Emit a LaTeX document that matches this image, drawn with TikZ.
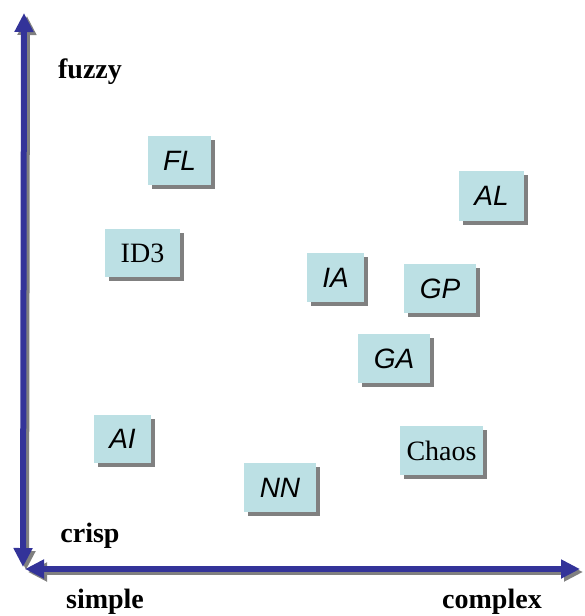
\documentclass[tikz,border=0pt]{standalone}
\usepackage{fontspec}
\setmainfont{Liberation Serif}
\newfontfamily\arialfont{Liberation Sans}
\usetikzlibrary{arrows.meta,shadows}
\definecolor{boxfill}{HTML}{BCE0E4}
\definecolor{axisblue}{HTML}{333399}
\definecolor{shadowgray}{HTML}{808080}
\tikzset{
  tag/.style={fill=boxfill, inner sep=0pt, font=\fontsize{28}{30}\selectfont,
    general shadow={fill=shadowgray, shadow xshift=4pt, shadow yshift=-4pt}},
  axislab/.style={font=\fontsize{28}{30}\selectfont\bfseries, inner sep=0pt},
  axisline/.style={line width=6pt, draw=axisblue,
    {Triangle[width=18pt,length=19pt]}-{Triangle[width=18pt,length=19pt]}},
  axisshadow/.style={line width=6pt, draw=shadowgray,
    {Triangle[width=18pt,length=19pt]}-{Triangle[width=18pt,length=19pt]}}
}
\newcommand{\tagbox}[6]{% name, x1, y1, x2, y2, text
  \node[tag, minimum width={#4-#2}, minimum height={#5-#3}] (#1) at ({(#2+#4)/2},{(#3+#5)/2}) {#6};}
\begin{document}
\begin{tikzpicture}[x=1pt,y=-1pt]
\useasboundingbox (0,0) rectangle (585,616);
% axes
\coordinate (vtop) at (24,13);
\coordinate (vbot) at (23,567);
\coordinate (hleft) at (25,569);
\coordinate (hright) at (580,569);
\draw[axisshadow, transform canvas={xshift=3pt,yshift=-3pt}] (vbot) -- (vtop);
\draw[axisshadow, transform canvas={xshift=3pt,yshift=-3pt}] (hleft) -- (hright);
\draw[axisline] (vbot) -- (vtop);
\draw[axisline] (hleft) -- (hright);
% axis labels
\node[axislab] (fuzzy) at (90,72) {fuzzy};
\node[axislab] (crisp) at (90,536) {crisp};
\node[axislab, anchor=base] (simple) at (105,608) {simple};
\node[axislab, anchor=base] (complex) at (492,608) {complex};
% boxes
\tagbox{FL}{148}{136}{211}{185}{\arialfont\itshape FL}
\tagbox{AL}{459}{171}{524}{221}{\arialfont\itshape AL}
\tagbox{ID3}{105}{229}{180}{277}{ID3}
\tagbox{IA}{307}{253}{364}{302}{\arialfont\itshape IA}
\tagbox{GP}{404}{264}{476}{313}{\arialfont\itshape GP}
\tagbox{GA}{358}{334}{430}{383}{\arialfont\itshape GA}
\tagbox{AI}{94}{415}{151}{463}{\arialfont\itshape AI}
\tagbox{Chaos}{400}{426}{483}{475}{Chaos}
\tagbox{NN}{244}{463}{316}{512}{\arialfont\itshape NN}
\end{tikzpicture}
\end{document}
